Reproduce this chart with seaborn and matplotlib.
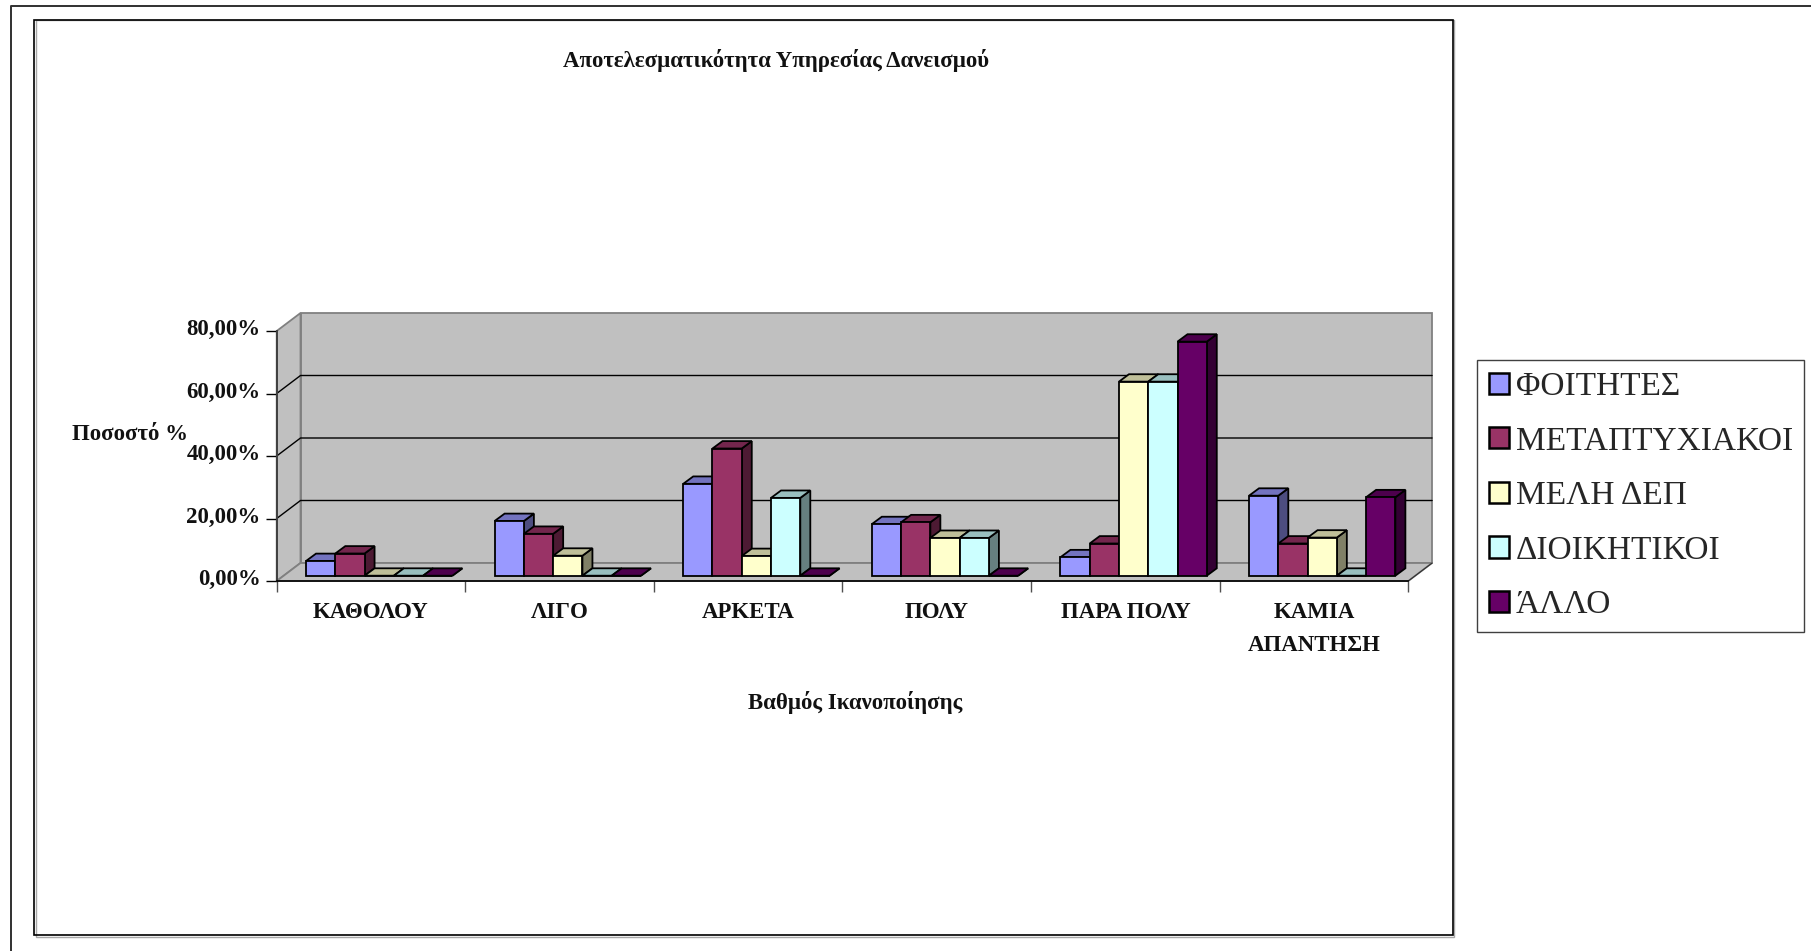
import numpy as np
import pandas as pd
import seaborn as sns
import matplotlib
matplotlib.use("Agg")
import matplotlib.pyplot as plt
from matplotlib.patches import Polygon, Rectangle
from matplotlib.lines import Line2D
from matplotlib.transforms import IdentityTransform, Affine2D
from matplotlib.colors import to_rgb

# ---- data (percent) ----
categories = ["ΚΑΘΟΛΟΥ", "ΛΙΓΟ", "ΑΡΚΕΤΑ", "ΠΟΛΥ", "ΠΑΡΑ ΠΟΛΥ", "ΚΑΜΙΑ\nΑΠΑΝΤΗΣΗ"]
series_names = ["ΦΟΙΤΗΤΕΣ", "ΜΕΤΑΠΤΥΧΙΑΚΟΙ", "ΜΕΛΗ ΔΕΠ", "ΔΙΟΙΚΗΤΙΚΟΙ", "ΆΛΛΟ"]
foitites = [4.7, 7.1, ][:2] + [] if False else [4.7, 17.5, 29.4, 16.5, 5.9, 25.6]
metaptychiakoi = [7.1, 13.4, 40.7, 17.1, 10.3, 10.3]
meli_dep = [0.0, 6.4, 6.3, 12.1, 62.1, 12.2]
dioikitikoi = [0.0, 0.0, 24.9, 12.1, 62.1, 0.0]
allo = [0.0, 0.0, 0.0, 0.0, 74.9, 25.1]
colours = ["#9999FF", "#993366", "#FFFFCC", "#CCFFFF", "#660066"]
y_ticks = [0, 20, 40, 60, 80]
y_tick_labels = ["0,00%", "20,00%", "40,00%", "60,00%", "80,00%"]
title_text = "Αποτελεσματικότητα Υπηρεσίας Δανεισμού"
x_label = "Βαθμός Ικανοποίησης"
y_label = "Ποσοστό %"

W, H = 1811, 951
SERIF = ["Liberation Serif", "DejaVu Serif"]
sns.set_theme(style="white")
plt.rcParams["font.family"] = SERIF

df = pd.DataFrame({
    "cat": np.repeat(categories, 5),
    "group": series_names * 6,
    "val": np.array([foitites, metaptychiakoi, meli_dep, dioikitikoi, allo]).T.ravel(),
})

fig = plt.figure(figsize=(W / 100, H / 100), dpi=100, facecolor="white")
# axes = front plane of the 3-D box
L, R, T, B = 276.7, 1408.3, 331.0, 581.0
ax = fig.add_axes([L / W, 1 - B / H, (R - L) / W, (B - T) / H])
ax.patch.set_visible(False)

sns.barplot(data=df, x="cat", y="val", hue="group", hue_order=series_names,
            order=categories, palette=colours, width=0.776, gap=0,
            edgecolor="black", linewidth=1.3, saturation=1, ax=ax)
ax.set_ylim(0, 80)
ax.set_xlim(-0.5, 5.5)
handles, labels = ax.get_legend_handles_labels()

identity = IdentityTransform()
WALL_DX, WALL_DY = 23.8, 18.0     # box depth in pixels
BAR_DX, BAR_DY = 8.2, 5.3         # bars stand inside the box
DEPTH_X, DEPTH_Y = 10.0, 7.4      # depth of a bar
lw_edge = 1.3


def shade(colour, f):
    return tuple(c * f for c in to_rgb(colour))


# 3-D walls and floor
def pts(*p):
    return np.array(p)

BL = ax.transData.transform((-0.5, 0))
BR = ax.transData.transform((5.5, 0))
TL = ax.transData.transform((-0.5, 80))
TR = ax.transData.transform((5.5, 80))
d = np.array([WALL_DX, WALL_DY])
wall_grey = "#C0C0C0"
edge_grey = "#808080"
ax.add_patch(Polygon(pts(BL + d, BR + d, TR + d, TL + d), closed=True, fc=wall_grey, ec=edge_grey,
                     lw=1.3, transform=identity, clip_on=False, zorder=0.1))
ax.add_patch(Polygon(pts(BL, BL + d, TL + d, TL), closed=True, fc=wall_grey, ec=edge_grey,
                     lw=1.3, transform=identity, clip_on=False, zorder=0.2))
ax.add_patch(Polygon(pts(BL, BR, BR + d, BL + d), closed=True, fc=wall_grey, ec=edge_grey,
                     lw=1.3, transform=identity, clip_on=False, zorder=0.2))
ax.add_line(Line2D(*zip(BR, BR + d), color="#303030", lw=0.8, transform=identity, clip_on=False, zorder=0.3))
for v in y_ticks[1:-1]:
    p0 = ax.transData.transform((-0.5, v))
    p1 = ax.transData.transform((5.5, v))
    ax.add_line(Line2D(*zip(p0, p0 + d, p1 + d), color="black", lw=1.0,
                       transform=identity, clip_on=False, zorder=0.4))

# bars: shift the front faces to their depth, add tops and sides
bar_shift = ax.transData + Affine2D().translate(BAR_DX, BAR_DY)
for s, container in enumerate(ax.containers):
    col = colours[s]
    for c, rect in enumerate(container):
        rect.set_transform(bar_shift)
        rect.set_clip_on(False)
        z = 2 + c * 10 + s
        rect.set_zorder(z + 0.5)
        tf = rect.get_transform()
        (x0, y0), (x1, y1) = tf.transform([(0, 0), (1, 1)])
        dd = (DEPTH_X, DEPTH_Y)
        top = pts((x0, y1), (x1, y1), (x1 + dd[0], y1 + dd[1]), (x0 + dd[0], y1 + dd[1]))
        side = pts((x1, y0), (x1 + dd[0], y0 + dd[1]), (x1 + dd[0], y1 + dd[1]), (x1, y1))
        ax.add_patch(Polygon(side, closed=True, fc=shade(col, 0.5), ec="black", lw=lw_edge,
                             transform=identity, clip_on=False, zorder=z))
        ax.add_patch(Polygon(top, closed=True, fc=shade(col, 0.75), ec="black", lw=lw_edge,
                             transform=identity, clip_on=False, zorder=z + 0.2))

# axes furniture
sns.despine(ax=ax, top=True, right=True)
ax.spines["left"].set_color("#404040")
ax.spines["left"].set_linewidth(1.4)
ax.spines["bottom"].set_color("black")
ax.spines["bottom"].set_linewidth(1.2)
ax.spines["left"].set_zorder(1)
ax.spines["bottom"].set_zorder(1)

ax.set_yticks(y_ticks, labels=y_tick_labels, fontsize=16.5, fontweight="bold", color="#111111")
ax.tick_params(axis="y", length=7.9, width=1.0, color="black", pad=3.6, left=True)
ax.set_xticks(np.arange(-0.5, 6, 1), labels=[""] * 7)
ax.tick_params(axis="x", which="major", length=7.9, width=1.0, color="#505050", bottom=True)
ax.set_xticks(np.arange(6), labels=categories, minor=True, fontsize=16.5, fontweight="bold",
              color="#111111", linespacing=1.75)
ax.tick_params(axis="x", which="minor", length=0, pad=15)
for lab in ax.get_yticklabels():
    lab.set_transform(lab.get_transform() + Affine2D().translate(0, 4))

ax.set_xlabel(x_label, fontsize=16.5, fontweight="bold", color="#111111")
ax.xaxis.set_label_coords(855, H - 703, transform=identity)
ax.xaxis.label.set_va("center")
ax.set_ylabel(y_label, fontsize=16.5, fontweight="bold", color="#111111", rotation=0, ha="center", va="center")
ax.yaxis.set_label_coords(130, H - 435, transform=identity)
fig.suptitle(title_text, x=776 / W, y=1 - 61 / H, fontsize=16.5, fontweight="bold",
             color="#111111", va="center", ha="center")

leg = ax.legend(handles, labels, loc="upper left", bbox_to_anchor=(1477.3, H - 360),
                bbox_transform=identity, borderaxespad=0, fontsize=24, frameon=True,
                fancybox=False, edgecolor="#404040", framealpha=1,
                handlelength=0.6, handleheight=0.6, handletextpad=0.2, labelspacing=0.72,
                borderpad=0.35)
leg.get_frame().set_linewidth(1.0)
leg.set_zorder(100)
for h in leg.legend_handles:
    h.set_edgecolor("black")
    h.set_linewidth(1.8)

# outer and inner frames
fig.add_artist(Rectangle((35.5, H - 936.5), 1418.7, 917, fill=False, ec="#A8A8A8", lw=1.0, transform=identity))
fig.add_artist(Rectangle((34, H - 935), 1418.7, 915.5, fill=False, ec="black", lw=1.2, transform=identity))
fig.add_artist(Line2D([11, 11, W], [0, H - 5.5, H - 5.5], color="#303030", lw=1.4, transform=identity))

fig.savefig("out.png", dpi=100, facecolor="white")
